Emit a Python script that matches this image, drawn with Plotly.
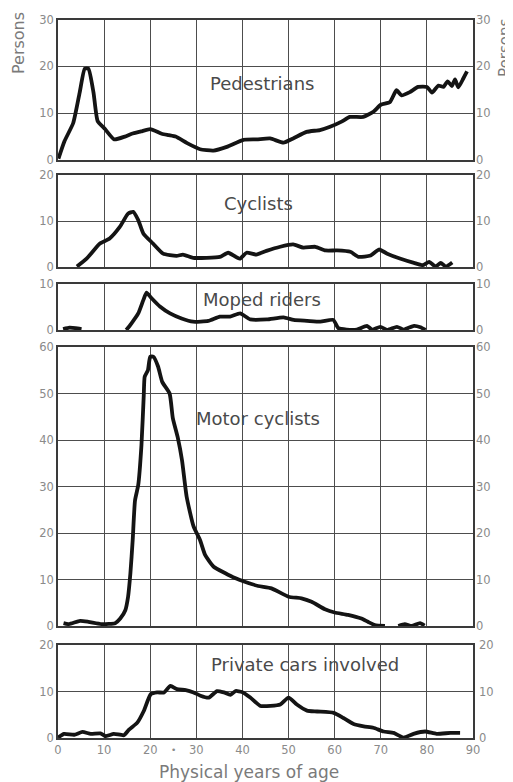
import plotly.graph_objects as go

# ---------------- data (age in years, persons) ----------------
ped_age = [0.1, 1.4, 3.3, 4.7, 5.8, 6.6, 7.7, 8.6, 10.2, 12.2, 14.5, 16.0, 18.0, 20.0, 22.5, 24.0,
           25.5, 28.0, 30.8, 33.7, 36.6, 40.2, 43.1, 46.0, 48.9, 51.0, 53.9, 56.8, 59.0, 61.5,
           63.3, 66.2, 68.4, 70.0, 72.0, 73.4, 74.5, 76.3, 78.1, 80.0, 81.1, 82.5, 83.6, 84.5,
           85.4, 86.1, 86.8, 87.9, 88.7]
ped_val = [0.3, 4.0, 7.9, 14.4, 19.5, 19.5, 14.4, 8.3, 6.6, 4.4, 5.0, 5.6, 6.1, 6.6, 5.6, 5.3,
           5.0, 3.6, 2.3, 2.0, 2.8, 4.3, 4.4, 4.6, 3.7, 4.6, 6.0, 6.4, 7.1, 8.2,
           9.2, 9.2, 10.3, 11.8, 12.4, 14.9, 13.8, 14.5, 15.6, 15.6, 14.4, 15.9, 15.6, 16.8,
           15.8, 17.2, 15.5, 17.4, 18.9]

cyc_age = [4.1, 6.2, 9.1, 11.2, 13.4, 15.2, 16.3, 17.4, 18.5, 20.6, 22.8, 25.7, 27.1, 29.3,
           32.2, 35.1, 36.9, 39.4, 40.9, 43.0, 45.2, 48.2, 51.0, 53.2, 55.8, 58.0, 60.5,
           63.4, 65.2, 67.8, 69.6, 71.4, 74.3, 77.2, 79.1, 80.5, 81.9, 83.0, 84.1, 85.5]
cyc_val = [0.1, 1.8, 5.1, 6.2, 8.7, 11.6, 12.0, 10.2, 7.3, 5.1, 2.9, 2.4, 2.7, 2.0,
           2.0, 2.2, 3.1, 1.8, 3.1, 2.7, 3.5, 4.4, 4.9, 4.2, 4.4, 3.6, 3.6,
           3.3, 2.2, 2.5, 3.8, 2.9, 1.8, 0.9, 0.4, 1.1, 0.1, 0.9, 0.1, 1.0]

mop_age = [1.1, 2.5, 3.8, 5.1, None, 14.8, 15.9, 17.4, 18.5, 19.2, 20.3, 22.1, 24.3, 26.8, 29.3,
           32.6, 35.1, 37.3, 39.5, 41.7, 45.3, 48.9, 51.1, 54.0, 56.9, 59.7, 60.8, 62.6,
           64.8, 67.0, 68.1, 69.9, 71.4, 73.5, 75.0, 77.2, 78.6, 79.7]
mop_val = [0.2, 0.5, 0.4, 0.2, None, 0.0, 1.4, 3.6, 6.5, 8.1, 6.9, 5.1, 3.6, 2.5, 1.8,
           1.96, 2.9, 2.9, 3.6, 2.3, 2.3, 2.75, 2.2, 2.0, 1.8, 2.2, 0.4, 0.1,
           0.1, 0.9, 0.1, 0.7, 0.0, 0.7, 0.1, 0.9, 0.6, 0.0]

mot_age = [1.2, 2.3, 4.8, 6.6, 9.5, 12.4, 13.5, 14.6, 15.2, 15.7, 16.2, 16.7, 17.4, 18.1,
           18.6, 18.8, 19.5, 20.0, 20.7, 21.7, 22.6, 24.2, 24.9, 26.0, 26.9, 27.9, 29.4,
           30.8, 31.9, 33.7, 36.2, 38.4, 40.5, 43.4, 46.3, 50.0, 52.8, 55.0, 57.9, 60.0,
           62.9, 65.8, 67.2, 68.7, 70.9, None, 73.8, 75.2, 76.7, 78.5, 79.5]
mot_val = [0.6, 0.4, 1.1, 0.9, 0.4, 0.6, 1.6, 3.4, 6.3, 11.3, 18.5, 27.0, 30.3, 38.9,
           49.7, 53.6, 55.0, 57.9, 57.9, 55.8, 52.5, 50.0, 44.7, 40.4, 35.6, 27.8, 21.4,
           18.5, 15.3, 12.8, 11.4, 10.3, 9.5, 8.6, 8.1, 6.3, 5.95, 5.2, 3.6, 2.9,
           2.4, 1.6, 0.9, 0.2, 0.0, None, 0.0, 0.4, 0.0, 0.6, 0.1]

car_age = [0.0, 1.3, 3.5, 5.3, 7.1, 9.2, 10.3, 12.1, 14.3, 15.4, 17.2, 18.6, 20.1, 21.5, 23.0,
           24.4, 25.8, 27.7, 29.4, 30.9, 32.7, 34.5, 36.0, 37.4, 38.5, 39.9, 41.7, 43.9,
           46.1, 48.2, 50.0, 51.8, 54.0, 56.2, 59.8, 61.9, 64.1, 66.3, 68.4, 70.6, 72.8,
           74.9, 77.1, 79.6, 82.1, 85.1, 87.2]
car_val = [0.1, 0.9, 0.7, 1.3, 0.9, 1.0, 0.4, 0.9, 0.6, 1.8, 3.3, 5.8, 9.4, 9.8, 9.8,
           11.2, 10.5, 10.3, 9.8, 9.1, 8.7, 10.1, 9.8, 9.3, 10.1, 9.9, 8.7, 6.9,
           6.9, 7.2, 8.7, 7.2, 5.9, 5.7, 5.4, 4.3, 3.0, 2.5, 2.2, 1.4, 1.1,
           0.1, 0.9, 1.4, 0.9, 1.1, 1.1]

panel_names = ["Pedestrians", "Cyclists", "Moped riders", "Motor cyclists", "Private cars involved"]
panel_max = [30, 20, 10, 60, 20]
panel_ticks = [[0, 10, 20, 30], [0, 10, 20], [0, 10], [0, 10, 20, 30, 40, 50, 60], [0, 10, 20]]
x_ticks = [0, 10, 20, 30, 40, 50, 60, 70, 80, 90]
x_title = "Physical years of age"
y_title = "Persons"

series = [(ped_age, ped_val), (cyc_age, cyc_val), (mop_age, mop_val), (mot_age, mot_val), (car_age, car_val)]

# ---------------- layout geometry ----------------
# the page body has an 8px margin, so the figure is drawn 8px in from the window corner
OFF = 8
W, H = 513 - OFF, 782 - OFF
L_PX, R_PX = 58, 473          # plot left / right edge in window pixels
ML, MR = L_PX - OFF, 513 - R_PX
PW = W - ML - MR
pix = [(19.5, 160), (175, 267), (284, 330), (347, 626), (645, 738)]  # top, bottom (window px)
label_pos = [(44.3, 16.4), (43.4, 13.9), (44.3, 6.7), (43.4, 44.7), (53.6, 15.9)]


def px_x(p):
    return (p - L_PX) / PW


def px_y(p):
    return 1 - (p - OFF) / H


TICK_FONT = dict(family="DejaVu Sans", size=11.5, color="#8a8a8a")
GRID = "#4d4d4d"
FRAME = "#3a3a3a"

fig = go.Figure()
layout = dict(width=W, height=H, margin=dict(l=ML, r=MR, t=0, b=0, autoexpand=False),
              paper_bgcolor="white", plot_bgcolor="white", showlegend=False,
              annotations=[])

for i, ((xa, ya), top_bot) in enumerate(zip(series, pix)):
    n = i + 1
    xn = "x" if n == 1 else f"x{n}"
    yn = "y" if n == 1 else f"y{n}"
    yr = f"y{n + 5}"
    fig.add_trace(go.Scatter(x=xa, y=ya, mode="lines", xaxis=xn, yaxis=yn,
                             line=dict(color="#141414", width=3.8, shape="spline", smoothing=0.5),
                             connectgaps=False, hoverinfo="skip"))
    fig.add_trace(go.Scatter(x=[None], y=[None], xaxis=xn, yaxis=yr, hoverinfo="skip"))
    top, bot = top_bot
    dom = [px_y(bot), px_y(top)]
    layout[f"xaxis{n}"] = dict(domain=[0, 1], anchor=yn, range=[0, 90], tickvals=x_ticks,
                               showticklabels=(n == 5), tickfont=TICK_FONT, ticks="",
                               showgrid=True, gridcolor=GRID, gridwidth=1,
                               showline=True, mirror=True, linecolor=FRAME, linewidth=1.5,
                               zeroline=False, fixedrange=True, automargin=False)
    layout[f"yaxis{n}"] = dict(domain=dom, anchor=xn, range=[0, panel_max[i]],
                               tickvals=panel_ticks[i], tickfont=TICK_FONT, ticks="",
                               showgrid=True, gridcolor=GRID, gridwidth=1,
                               showline=True, mirror=True, linecolor=FRAME, linewidth=1.5,
                               zeroline=False, fixedrange=True, automargin=False)
    layout[f"yaxis{n + 5}"] = dict(overlaying=yn, side="right", anchor=xn, range=[0, panel_max[i]],
                                   tickvals=panel_ticks[i], tickfont=TICK_FONT, ticks="",
                                   ticklabelstandoff=(5 if n == 5 else 2),
                                   showgrid=False, showline=False, zeroline=False,
                                   fixedrange=True, automargin=False)
    lx, ly = label_pos[i]
    layout["annotations"].append(dict(text=panel_names[i], x=lx, y=ly, xref=xn, yref=yn,
                                      showarrow=False, xanchor="center", yanchor="middle",
                                      font=dict(family="DejaVu Sans", size=18, color="#4a4a4a")))

# axis titles and marks
layout["annotations"] += [
    dict(text=y_title, textangle=-90, x=px_x(18), y=px_y(43),
         xref="paper", yref="paper", showarrow=False, xanchor="center", yanchor="middle",
         font=dict(family="DejaVu Sans", size=16, color="#7a7a7a")),
    dict(text=y_title, textangle=-90, x=px_x(505), y=px_y(48),
         xref="paper", yref="paper", showarrow=False, xanchor="center", yanchor="middle",
         font=dict(family="DejaVu Sans", size=15, color="#7a7a7a")),
    dict(text=x_title, x=px_x(249), y=px_y(772), xref="paper", yref="paper",
         showarrow=False, xanchor="center", yanchor="middle",
         font=dict(family="DejaVu Sans", size=17, color="#7a7a7a")),
    dict(text="•", x=25, y=px_y(750), xref="x5", yref="paper", showarrow=False,
         xanchor="center", yanchor="middle",
         font=dict(family="DejaVu Sans", size=9, color="#8a8a8a")),
]

fig.update_layout(**layout)
fig.write_html("out.html")
